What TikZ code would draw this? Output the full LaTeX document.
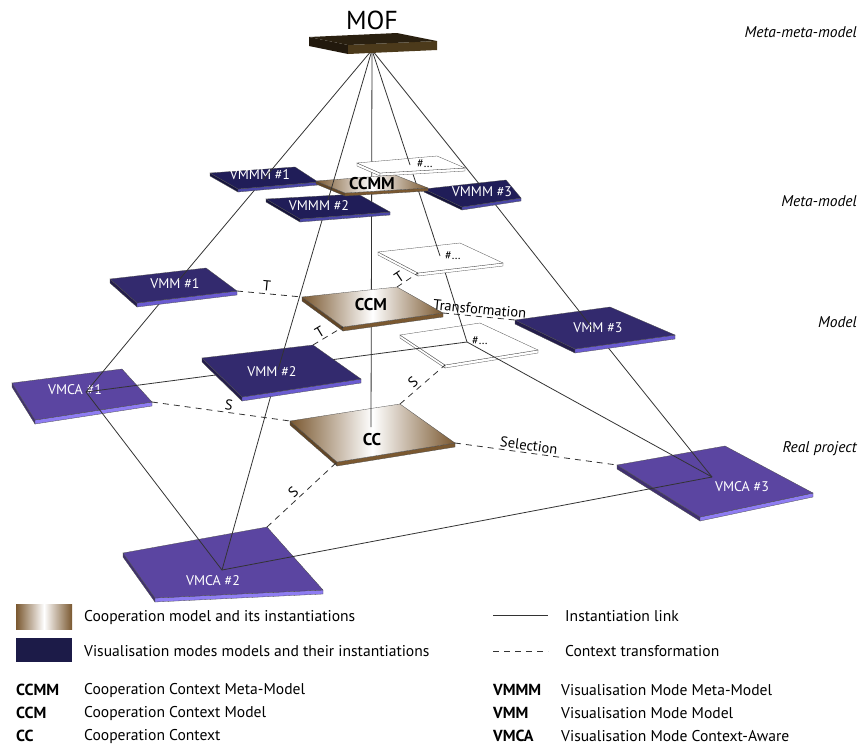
\documentclass[tikz,border=0pt]{standalone}
\usepackage{fontspec}
\setmainfont{PT Sans}
\usetikzlibrary{calc}

\definecolor{vmmmtop}{HTML}{201D58}
\definecolor{vmmmside}{HTML}{4B47A8}
\definecolor{vmmtop}{HTML}{332A6E}
\definecolor{vmmside}{HTML}{6A5BD0}
\definecolor{vmcatop}{HTML}{5B45A1}
\definecolor{vmcaside}{HTML}{8E7CF2}
\definecolor{ccbrown}{HTML}{7A5830}
\definecolor{moftop}{HTML}{2A2010}
\definecolor{moffront}{HTML}{4C3A1B}
\definecolor{navy}{HTML}{1C1B48}

% plate: name, corners l t r b, top fill, front colour, left colour, thickness
\newcommand{\plate}[9]{%
  \coordinate (#1-l) at (#2);
  \coordinate (#1-t) at (#3);
  \coordinate (#1-r) at (#4);
  \coordinate (#1-b) at (#5);
  \filldraw[fill=#8, draw=black!70, line width=0.3pt] (#1-l) -- (#1-b) -- ($(#1-b)+(0,#9)$) -- ($(#1-l)+(0,#9)$) -- cycle;
  \filldraw[fill=#7, draw=black!70, line width=0.3pt] (#1-b) -- (#1-r) -- ($(#1-r)+(0,#9)$) -- ($(#1-b)+(0,#9)$) -- cycle;
  \path[#6, draw=black!70, line width=0.3pt] (#1-l) -- (#1-t) -- (#1-r) -- (#1-b) -- cycle;
}

\begin{document}
\begin{tikzpicture}[x=1pt, y=-1pt,
  link/.style={draw=black!80, line width=0.8pt},
  ctx/.style={draw=black!80, line width=0.8pt, dash pattern=on 6pt off 5pt},
  lvl/.style={anchor=east, inner sep=0pt, font=\itshape\fontsize{15.5}{17}\selectfont},
  lbl/.style={inner sep=0pt, text=white, font=\fontsize{14}{16}\selectfont},
  cclbl/.style={inner sep=0pt, font=\bfseries\fontsize{17}{19}\selectfont},
  dotlbl/.style={inner sep=0pt, font=\fontsize{12}{14}\selectfont},
  tlbl/.style={inner sep=2pt, font=\fontsize{14.5}{16}\selectfont},
  legend/.style={anchor=west, inner sep=0pt, font=\fontsize{15.6}{18}\selectfont},
  abbr/.style={anchor=west, inner sep=0pt, font=\bfseries\fontsize{16}{18}\selectfont},
  brown grad/.style={left color=ccbrown, right color=ccbrown, middle color=white},
]
\useasboundingbox (0,0) rectangle (861,747);

% Real project
\plate{vmca1}{12,383}{122,369}{152,402}{35,420}{fill=vmcatop}{vmcaside}{vmcatop!70!black}{4}
\plate{vmca2}{123,553}{267,527}{323,590}{155,598}{fill=vmcatop}{vmcaside}{vmcatop!70!black}{4}
\plate{vmca3}{617,465}{725,446}{813,493}{700,517}{fill=vmcatop}{vmcaside}{vmcatop!70!black}{4}
\plate{dots3}{400,335}{480,323}{538,350}{445,365}{fill=white}{white}{white}{3}
\plate{cc}{290,421}{400,404}{455,443}{337,462}{brown grad}{ccbrown}{ccbrown!80!black}{4}
\node[lbl] (vmca1) at (75,390) {VMCA \#1};
\node[lbl] (vmca2) at (213,581) {VMCA \#2};
\node[lbl] (vmca3) at (742,487) {VMCA \#3};
\node[dotlbl] (dots3) at (480,341) {\#\dots};
\node[cclbl] (cc) at (372,440) {CC};
\coordinate (vmca1-a) at (86,392);
\coordinate (vmca2-a) at (222,570);
\coordinate (vmca3-a) at (712,477);
\coordinate (dots3-a) at (467,342);
\coordinate (cc-a) at (371,427);

% Model
\coordinate (mof-a) at (372,50);
\coordinate (vmm1-a) at (179,280);
\coordinate (vmm2-a) at (278,370);
\coordinate (vmm3-a) at (594,330);
\coordinate (dots2-a) at (440,256);
\draw[link] (mof-a) -- (cc-a);
\draw[link] (vmm1-a) -- (vmca1-a);
\draw[link] (vmm2-a) -- (vmca2-a);
\draw[link] (vmm3-a) -- (vmca3-a);
\draw[link] (dots2-a) -- (dots3-a) -- (vmca3-a);
\draw[link] (vmca1-a) -- (dots3-a);
\draw[link] (vmca1-a) -- (vmca2-a) -- (vmca3-a);
\plate{vmm1}{110,279}{206,268}{237,291}{137,303}{fill=vmmtop}{vmmside}{vmmtop!70!black}{4}
\plate{vmm2}{202,358}{313,345}{361,379}{242,397}{fill=vmmtop}{vmmside}{vmmtop!70!black}{4}
\plate{vmm3}{515,320}{610,307}{675,335}{575,349}{fill=vmmtop}{vmmside}{vmmtop!70!black}{4}
\plate{dots2}{378,252}{460,243}{503,263}{418,273}{fill=white}{white}{white}{3}
\plate{ccm}{302,297}{397,287}{443,313}{343,327}{brown grad}{ccbrown}{ccbrown!80!black}{4}
\node[lbl] (vmm1) at (175,284) {VMM \#1};
\node[lbl] (vmm2) at (272,372) {VMM \#2};
\node[lbl] (vmm3) at (598,328) {VMM \#3};
\node[dotlbl] (dots2) at (453,256) {\#\dots};
\node[cclbl] (ccm) at (371,305) {CCM};

% Meta-model
\coordinate (vmmm1-a) at (263,180);
\coordinate (vmmm2-a) at (328,200);
\coordinate (vmmm3-a) at (480,185);
\coordinate (dots1-a) at (410,165);
\draw[link] (vmmm1-a) -- (vmm1-a);
\draw[link] (vmmm2-a) -- (vmm2-a);
\draw[link] (vmmm3-a) -- (vmm3-a);
\draw[link] (dots1-a) -- (dots2-a);
\plate{dots1}{357,163}{437,156}{465,168}{380,173}{fill=white}{white}{white}{3}
\plate{vmmm1}{210,173}{295,167}{318,182}{238,189}{fill=vmmmtop}{vmmmside}{vmmmtop!70!black}{3}
\plate{vmmm3}{424,189}{506,180}{521,198}{462,207}{fill=vmmmtop}{vmmmside}{vmmmtop!70!black}{3}
\plate{vmmm2}{266,199}{358,194}{390,212}{300,219}{fill=vmmmtop}{vmmmside}{vmmmtop!70!black}{3}
\plate{ccmm}{316,181}{395,175}{428,188}{345,193}{brown grad}{ccbrown}{ccbrown!80!black}{3}
\node[lbl] (vmmm1) at (260,175) {VMMM \#1};
\node[lbl] (vmmm2) at (319,206) {VMMM \#2};
\node[lbl] (vmmm3) at (482,192) {VMMM \#3};
\node[dotlbl] (dots1) at (425,164) {\#\dots};
\node[cclbl] (ccmm) at (372,184) {CCMM};

% Meta-meta-model
\draw[link] (mof-a) -- (vmmm1-a);
\draw[link] (mof-a) -- (vmmm2-a);
\draw[link] (mof-a) -- (vmmm3-a);
\draw[link] (mof-a) -- (dots1-a);
\fill[moftop!80!black] (309,37) -- (348,45) -- (348,54) -- (309,46) -- cycle;
\fill[moffront] (348,45) -- (437,41) -- (437,50) -- (348,54) -- cycle;
\fill[moftop] (309,37) -- (397,33) -- (437,41) -- (348,45) -- cycle;
\node[inner sep=0pt, font=\fontsize{26}{28}\selectfont] (mof) at (372,20) {MOF};

% Context transformations
\draw[ctx] (vmm1-r) -- node[tlbl, pos=0.45, above, sloped] (t1) {T} (ccm-l);
\draw[ctx] (ccm-t) -- node[tlbl, pos=0.3, above, sloped] (t2) {T} (dots2-b);
\draw[ctx] (vmm2-t) -- node[tlbl, pos=0.35, above, sloped] (t3) {T} (ccm-b);
\draw[ctx] (ccm-r) -- node[tlbl, pos=0.5, above, sloped] (trans) {Transformation} (vmm3-l);
\draw[ctx] (vmca1-r) -- node[tlbl, pos=0.55, above, sloped] (s1) {S} (cc-l);
\draw[ctx] (cc-t) -- node[tlbl, pos=0.4, above, sloped] (s2) {S} (dots3-b);
\draw[ctx] (cc-r) -- node[tlbl, pos=0.45, above, sloped] (sel) {Selection} (vmca3-l);
\draw[ctx] (vmca2-t) -- node[tlbl, pos=0.45, above, sloped] (s3) {S} (cc-b);

% Levels
\node[lvl] (lv0) at (857,32) {Meta-meta-model};
\node[lvl] (lv1) at (857,201) {Meta-model};
\node[lvl] (lv2) at (857,322) {Model};
\node[lvl] (lv3) at (857,449) {Real project};

% Legend
\shade[brown grad] (16,604) rectangle (72,629);
\fill[navy] (16,638) rectangle (72,662);
\node[legend] (lg1) at (84,617) {Cooperation model and its instantiations};
\node[legend] (lg2) at (84,651) {Visualisation modes models and their instantiations};
\coordinate (ln1a) at (493,615);
\coordinate (ln1b) at (548,615);
\coordinate (ln2a) at (493,651);
\coordinate (ln2b) at (548,651);
\draw[link] (ln1a) -- (ln1b);
\draw[ctx] (ln2a) -- (ln2b);
\node[legend] (lg3) at (565,616) {Instantiation link};
\node[legend] (lg4) at (565,651) {Context transformation};

\node[abbr] (ab1) at (16,690) {CCMM};
\node[legend] (de1) at (84,690) {Cooperation Context Meta-Model};
\node[abbr] (ab2) at (16,713) {CCM};
\node[legend] (de2) at (84,713) {Cooperation Context Model};
\node[abbr] (ab3) at (16,736) {CC};
\node[legend] (de3) at (84,736) {Cooperation Context};
\node[abbr] (ab4) at (493,690) {VMMM};
\node[legend] (de4) at (561,690) {Visualisation Mode Meta-Model};
\node[abbr] (ab5) at (493,713) {VMM};
\node[legend] (de5) at (561,713) {Visualisation Mode Model};
\node[abbr] (ab6) at (493,736) {VMCA};
\node[legend] (de6) at (561,736) {Visualisation Mode Context-Aware};
\end{tikzpicture}
\end{document}
